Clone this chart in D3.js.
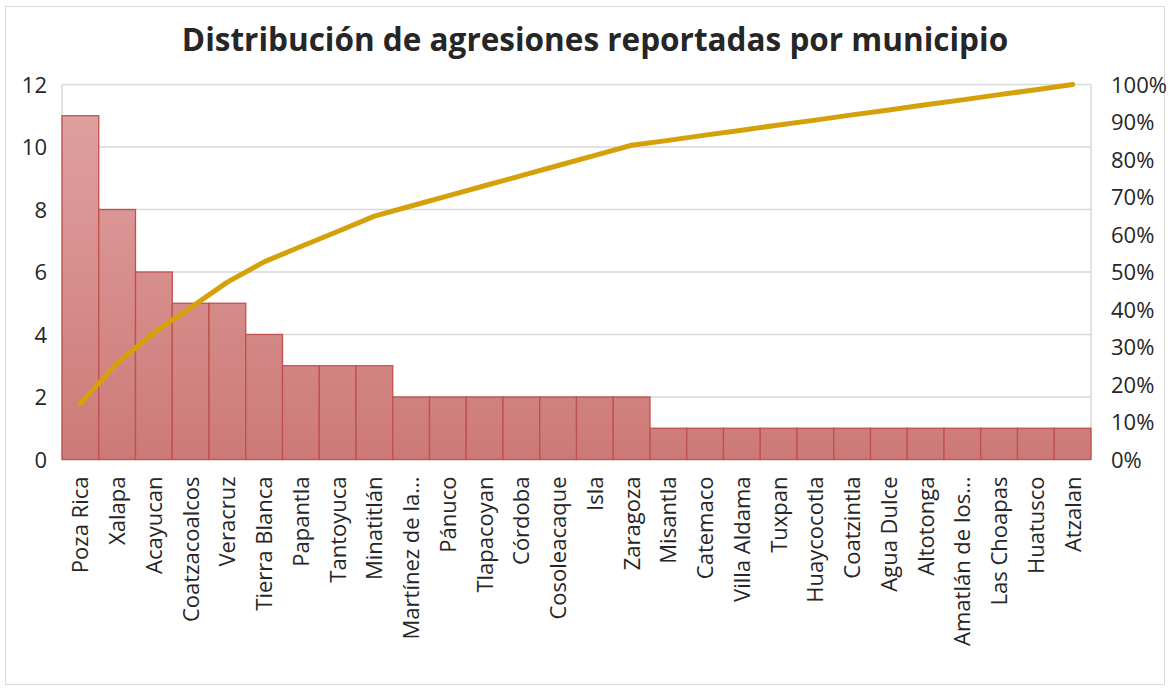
<!DOCTYPE html>
<html><head><meta charset="utf-8">
<script src="https://cdn.jsdelivr.net/npm/d3@7"></script>
<style>
body{margin:0;background:#fff;}
text{font-family:"Open Sans","Noto Sans",sans-serif;fill:#262626;}
</style></head>
<body><svg id="c" width="1171" height="690"></svg>
<script>
const categories = ["Poza Rica","Xalapa","Acayucan","Coatzacoalcos","Veracruz","Tierra Blanca","Papantla","Tantoyuca","Minatitlán","Martínez de la...","Pánuco","Tlapacoyan","Córdoba","Cosoleacaque","Isla","Zaragoza","Misantla","Catemaco","Villa Aldama","Tuxpan","Huaycocotla","Coatzintla","Agua Dulce","Altotonga","Amatlán de los...","Las Choapas","Huatusco","Atzalan"];
const counts = [11,8,6,5,5,4,3,3,3,2,2,2,2,2,2,2,1,1,1,1,1,1,1,1,1,1,1,1];
const cumulativePct = [14.9,25.7,33.8,40.5,47.3,52.7,56.8,60.8,64.9,67.6,70.3,73.0,75.7,78.4,81.1,83.8,85.1,86.5,87.8,89.2,90.5,91.9,93.2,94.6,95.9,97.3,98.6,100];
const leftTicks = [0,2,4,6,8,10,12];
const rightTicks = [0,10,20,30,40,50,60,70,80,90,100];
const title = "Distribución de agresiones reportadas por municipio";

const svg = d3.select("#c");
const L = 62, R = 1091, T = 84.5, B = 459.5;

svg.append("rect").attr("x",5.5).attr("y",6.5).attr("width",1159).attr("height",678)
  .attr("fill","#fff").attr("stroke","#d9d9d9").attr("stroke-width",1);

const defs = svg.append("defs");
const g = defs.append("linearGradient").attr("id","bg").attr("gradientUnits","userSpaceOnUse")
  .attr("x1",0).attr("x2",0).attr("y1",T).attr("y2",B);
g.append("stop").attr("offset","0%").attr("stop-color","#e0a3a3");
g.append("stop").attr("offset","100%").attr("stop-color","#cd7a77");

const x = d3.scaleBand().domain(categories).range([L,R]).padding(0);
const y = d3.scaleLinear().domain([0,12]).range([B,T]);
const y2 = d3.scaleLinear().domain([0,100]).range([B,T]);

// gridlines
svg.append("g").selectAll("line").data(leftTicks).join("line")
  .attr("x1",L).attr("x2",R).attr("y1",d=>y(d)).attr("y2",d=>y(d))
  .attr("stroke","#d9d9d9").attr("stroke-width",1.5);
svg.append("line").attr("x1",L).attr("x2",L).attr("y1",T).attr("y2",B).attr("stroke","#d9d9d9").attr("stroke-width",1.5);
svg.append("line").attr("x1",R).attr("x2",R).attr("y1",T).attr("y2",B).attr("stroke","#d9d9d9").attr("stroke-width",1.5);

// bars
svg.append("g").selectAll("rect").data(counts).join("rect")
  .attr("x",(d,i)=>x(categories[i]))
  .attr("y",d=>y(d))
  .attr("width",x.bandwidth())
  .attr("height",d=>B-y(d))
  .attr("fill","url(#bg)")
  .attr("stroke","#c0504d").attr("stroke-width",1.3);

// line
const line = d3.line().x((d,i)=>x(categories[i])+x.bandwidth()/2).y(d=>y2(d));
svg.append("path").datum(cumulativePct).attr("d",line)
  .attr("fill","none").attr("stroke","#d4a10a").attr("stroke-width",5)
  .attr("stroke-linecap","round").attr("stroke-linejoin","round");

// left axis
const la = svg.append("g").attr("transform",`translate(${L-15},0)`)
  .call(d3.axisLeft(y).tickValues(leftTicks).tickSize(0).tickPadding(0).tickFormat(d3.format("d")));
la.select(".domain").remove();
la.selectAll("text").attr("font-size",22).attr("dy","0.36em").style("font-family",'"Open Sans","Noto Sans",sans-serif').attr("fill","#262626");

// right axis
const ra = svg.append("g").attr("transform",`translate(${R+20},0)`)
  .call(d3.axisRight(y2).tickValues(rightTicks).tickSize(0).tickPadding(0).tickFormat(d=>d+"%"));
ra.select(".domain").remove();
ra.selectAll("text").attr("font-size",22).attr("dy","0.36em").style("font-family",'"Open Sans","Noto Sans",sans-serif').attr("fill","#262626");

// category labels
svg.append("g").selectAll("text").data(categories).join("text")
  .attr("transform",d=>`translate(${x(d)+x.bandwidth()/2+8},${B+17}) rotate(-90)`)
  .attr("text-anchor","end").attr("font-size",22).text(d=>d);

// title
svg.append("text").attr("x",595).attr("y",51).attr("text-anchor","middle")
  .attr("font-size",31.5).attr("font-weight","bold").text(title);
</script></body></html>
